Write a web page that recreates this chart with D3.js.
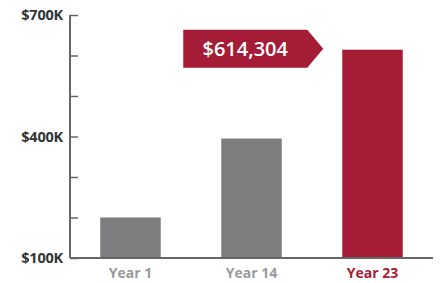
<!DOCTYPE html>
<html>
<head>
<meta charset="utf-8">
<style>
  body { margin: 0; background: #fff; }
  text { font-family: "Open Sans", sans-serif; }
</style>
</head>
<body>
<svg width="440" height="283"></svg>
<script src="https://cdn.jsdelivr.net/npm/d3@7"></script>
<script>
    var categories = ["Year 1", "Year 14", "Year 23"];
    var values = [200000, 395000, 614304];
    var barColors = ["#7e7e81", "#7e7e81", "#a51c36"];
    var labelColors = ["#9a9a9c", "#9a9a9c", "#a51c36"];
    var tickValues = [100000, 200000, 300000, 400000, 500000, 600000, 700000];
    var tickLabels = {100000: "$100K", 400000: "$400K", 700000: "$700K"};
    var callout = "$614,304";

    var svg = d3.select("svg"),
        margin = { top: 15, right: 7, bottom: 25, left: 70 },
        width = +svg.attr("width") - margin.left - margin.right,
        height = +svg.attr("height") - margin.top - margin.bottom;

    var g = svg.append("g")
        .attr("transform", "translate(" + margin.left + "," + margin.top + ")");

    var x = d3.scaleBand()
        .domain(categories)
        .range([0, width])
        .paddingInner(0.5)
        .paddingOuter(0.25);

    var y = d3.scaleLinear()
        .domain([100000, 700000])
        .range([height, 0]);

    // bars
    g.selectAll("rect.bar")
        .data(values)
        .enter().append("rect")
        .attr("class", "bar")
        .attr("x", function (d, i) { return x(categories[i]); })
        .attr("y", function (d) { return y(d); })
        .attr("width", x.bandwidth())
        .attr("height", function (d) { return y(100000) - y(d); })
        .attr("fill", function (d, i) { return barColors[i]; });

    // y axis
    var yAxis = g.append("g")
        .call(d3.axisRight(y)
            .tickValues(tickValues)
            .tickSize(8)
            .tickFormat(""));
    yAxis.select(".domain").remove();
    yAxis.selectAll(".tick line").attr("stroke", "#666").attr("stroke-width", 1.5);

    g.append("line")
        .attr("x1", 0).attr("x2", 0)
        .attr("y1", y(700000)).attr("y2", y(100000))
        .attr("stroke", "#666").attr("stroke-width", 2);

    g.selectAll("text.ylab")
        .data(tickValues.filter(function (v) { return tickLabels[v]; }))
        .enter().append("text")
        .attr("class", "ylab")
        .attr("x", -7)
        .attr("y", function (d) { return y(d); })
        .attr("dy", "0.36em")
        .attr("text-anchor", "end")
        .attr("fill", "#333")
        .attr("font-size", 14.5)
        .attr("font-weight", "bold")
        .attr("letter-spacing", "-0.2")
        .text(function (d) { return tickLabels[d]; });

    // x axis
    g.append("line")
        .attr("x1", 0).attr("x2", width)
        .attr("y1", height).attr("y2", height)
        .attr("stroke", "#666").attr("stroke-width", 2);

    g.selectAll("text.xlab")
        .data(categories)
        .enter().append("text")
        .attr("class", "xlab")
        .attr("x", function (d) { return x(d) + x.bandwidth() / 2; })
        .attr("y", height + 20)
        .attr("text-anchor", "middle")
        .attr("fill", function (d, i) { return labelColors[i]; })
        .attr("font-size", 14)
        .attr("font-weight", "bold")
        .text(function (d) { return d; });

    // callout arrow
    var cy = y(values[2]) - 1;
    var left = x(categories[1]) - 38, right = left + 124, tip = right + 16;
    g.append("path")
        .attr("d", "M" + left + "," + (cy - 19) + "H" + right + "L" + tip + "," + cy +
            "L" + right + "," + (cy + 19) + "H" + left + "Z")
        .attr("fill", "#a51c36");
    g.append("text")
        .attr("x", (left + right) / 2)
        .attr("y", cy)
        .attr("dy", "0.36em")
        .attr("text-anchor", "middle")
        .attr("fill", "#fff")
        .attr("font-size", 20)
        .attr("font-weight", 600)
        .text(callout);
</script>
</body>
</html>
